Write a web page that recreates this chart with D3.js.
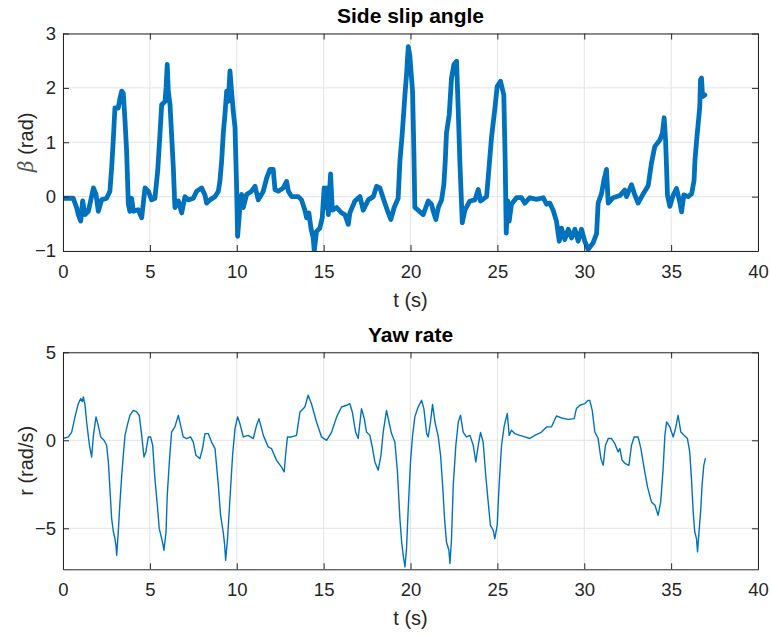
<!DOCTYPE html>
<html>
<head>
<meta charset="utf-8">
<script src="https://cdn.jsdelivr.net/npm/d3@7"></script>
<style>
  html, body { margin: 0; padding: 0; background: #fff; }
  svg { display: block; font-family: "Liberation Sans", Arial, Helvetica, sans-serif; }
</style>
</head>
<body>
<svg id="chart" width="771" height="636"></svg>
<script>
// ---------- data ----------
const xTicks = [0, 5, 10, 15, 20, 25, 30, 35, 40];
const betaTicks = [-1, 0, 1, 2, 3];
const yawTicks = [-5, 0, 5];

const betaT = [0, 0.3, 0.59, 0.79, 0.88, 1.02, 1.13, 1.27, 1.46, 1.59, 1.75, 1.9, 2.03, 2.22, 2.51, 2.7, 2.8, 2.9, 2.99, 3.18, 3.28, 3.38, 3.47, 3.57, 3.66, 3.76, 3.85, 3.95, 4.05, 4.33, 4.53, 4.72, 4.91, 5.1, 5.29, 5.45, 5.58, 5.68, 5.87, 5.93, 6.0, 6.06, 6.16, 6.25, 6.35, 6.44, 6.64, 6.83, 7.02, 7.21, 7.5, 7.69, 7.98, 8.17, 8.27, 8.46, 8.75, 8.94, 9.03, 9.13, 9.22, 9.32, 9.42, 9.51, 9.61, 9.7, 9.8, 9.9, 9.99, 10.05,
  10.18, 10.28, 10.38, 10.57, 10.85, 11.05, 11.24, 11.53, 11.72, 11.91, 12.1, 12.2, 12.39, 12.68, 12.87, 12.97, 13.16, 13.54, 13.73, 13.92, 14.02, 14.15, 14.27, 14.4, 14.46, 14.59, 14.78, 14.92, 15.03, 15.11, 15.19, 15.27, 15.4, 15.5, 15.75, 16.03, 16.22, 16.42, 16.51, 16.8, 17.09, 17.28, 17.57, 17.86, 18.05, 18.24, 18.43, 18.72, 18.87, 19.06, 19.29, 19.39, 19.52, 19.68, 19.77, 19.87, 19.96, 20.06, 20.12, 20.2, 20.25,
  20.44, 20.73, 21.02, 21.21, 21.31, 21.46, 21.6, 21.79, 21.92, 22.0, 22.07, 22.23, 22.36, 22.5, 22.65, 22.75, 22.84, 22.98, 23.13, 23.42, 23.71, 23.9, 24.03, 24.38, 24.49, 24.66, 24.86, 24.99, 25.18, 25.37, 25.45, 25.51, 25.6, 25.68, 25.81, 26.1, 26.39, 26.58, 26.87, 27.25, 27.64, 27.83, 28.02, 28.21, 28.4, 28.56, 28.69, 28.88, 29.08, 29.27, 29.46, 29.65, 29.84, 30.03, 30.23, 30.51, 30.71, 30.8,
  30.99, 31.13, 31.28, 31.38, 31.66, 32.05, 32.33, 32.43, 32.72, 32.91, 33.1, 33.39, 33.68, 33.87, 34.06, 34.35, 34.5, 34.6, 34.68, 34.73, 34.79, 34.93, 35.12, 35.31, 35.5, 35.6, 35.73, 35.98, 36.18, 36.32, 36.37, 36.47, 36.56, 36.65, 36.69, 36.75, 36.81, 36.94];
const betaV = [-0.03, -0.03, -0.03, -0.21, -0.33, -0.45, -0.08, -0.33, -0.27, -0.08, 0.16, 0.04, -0.27, -0.06, -0.03, 0.1, 0.53, 1.08, 1.63, 1.63, 1.81, 1.94, 1.9, 1.39, 0.84, -0.14, -0.27, -0.03, -0.27, -0.24, -0.39, 0.16, 0.1, -0.06, -0.03, 0.47, 1.14, 1.69, 1.75, 2.0, 2.43, 1.93, 1.69, 1.14, 0.53, -0.2, -0.08, -0.3, 0.0, -0.06, -0.03, 0.1, 0.16, 0.03, -0.12, -0.06, 0.0, 0.1, 0.28, 0.65, 1.14, 1.51, 1.94, 1.75, 2.31, 1.94, 1.57, 1.27, 0.2, -0.73,
  -0.2, 0.04, -0.2, 0.04, 0.1, 0.19, -0.06, 0.1, 0.34, 0.5, 0.5, 0.13, 0.1, 0.16, 0.28, 0.1, 0.0, 0.0, -0.06, -0.25, -0.39, -0.3, -0.58, -0.76, -1.0, -0.64, -0.58, -0.39, 0.16, -0.2, 0.16, -0.33, 0.42, -0.25, -0.2, -0.3, -0.33, -0.51, -0.3, -0.08, 0.0, -0.25, -0.06, 0.0, 0.19, 0.16, -0.03, -0.3, -0.42, -0.2, -0.03, 0.65, 1.14, 1.87, 2.24, 2.76, 2.6, 2.18, 1.93, 0.74, -0.2,
  -0.25, -0.33, -0.08, -0.14, -0.27, -0.42, -0.2, -0.06, 0.22, 0.65, 1.17, 1.51, 2.18, 2.43, 2.49, 1.57, 0.65, -0.48, -0.25, -0.08, -0.06, 0.13, -0.08, 0.0, 0.42, 1.08, 1.63, 2.03, 2.12, 1.87, 0.65, -0.67, -0.08, -0.45, -0.14, -0.02, -0.02, -0.12, -0.02, -0.05, -0.02, -0.14, -0.12, -0.25, -0.45, -0.82, -0.58, -0.79, -0.6, -0.76, -0.6, -0.82, -0.6, -0.82, -0.97, -0.85, -0.68, -0.12,
  0.05, 0.3, 0.5, -0.12, -0.02, 0.02, 0.12, 0.0, 0.22, 0.03, -0.12, 0.05, 0.2, 0.62, 0.92, 1.04, 1.17, 1.45, 1.04, 0.6, 0.02, -0.18, 0.03, 0.15, -0.1, -0.28, 0.03, 0.0, 0.05, 0.3, 0.66, 1.04, 1.35, 1.66, 2.15, 2.18, 1.84, 1.87];

const yawT = [0, 0.31, 0.5, 0.69, 0.88, 1.02, 1.1, 1.17, 1.27, 1.36, 1.52, 1.65, 1.75, 1.9, 2.03, 2.17, 2.36, 2.51, 2.61, 2.7, 2.8, 2.9, 2.99, 3.05, 3.09, 3.18, 3.28, 3.38, 3.47, 3.57, 3.7, 3.85, 4.05, 4.24, 4.39, 4.53, 4.66, 4.77, 4.91, 5.04, 5.16, 5.29, 5.43, 5.54, 5.68, 5.75, 5.81, 5.93, 6.0, 6.12, 6.25, 6.44, 6.64, 6.77, 6.92, 7.11, 7.34, 7.5, 7.65, 7.88, 8.03, 8.17, 8.36, 8.55, 8.75, 8.94, 9.07, 9.22, 9.3, 9.36, 9.47, 9.61, 9.76, 9.9,
  10.05, 10.18, 10.38, 10.66, 10.95, 11.14, 11.28, 11.53, 11.81, 12.0, 12.29, 12.58, 12.73, 12.81, 12.92, 13.16, 13.44, 13.64, 13.92, 14.11, 14.3, 14.59, 14.88, 15.17, 15.46, 15.75, 16.03, 16.32, 16.51, 16.65, 16.84, 16.99, 17.18, 17.34, 17.47, 17.66, 17.8, 17.95, 18.14, 18.3, 18.43, 18.62, 18.76, 18.91, 19.1, 19.25, 19.39, 19.49, 19.58, 19.68, 19.77, 19.87, 20.0,
  20.12, 20.25, 20.44, 20.64, 20.77, 20.93, 21.02, 21.15, 21.27, 21.41, 21.6, 21.73, 21.85, 21.96, 22.07, 22.21, 22.27, 22.36, 22.46, 22.61, 22.75, 22.88, 23.03, 23.22, 23.42, 23.61, 23.76, 23.9, 24.03, 24.18, 24.33, 24.47, 24.6, 24.76, 24.85, 24.99, 25.1, 25.24, 25.4, 25.57, 25.68, 25.81, 26.0, 26.29, 26.58, 26.87, 27.15, 27.54, 27.83, 28.11, 28.4, 28.69, 29.08, 29.42, 29.55, 29.75, 30.03, 30.22,
  30.32, 30.46, 30.61, 30.8, 30.96, 31.09, 31.22, 31.38, 31.57, 31.76, 31.95, 32.05, 32.18, 32.37, 32.57, 32.72, 32.87, 33.1, 33.26, 33.45, 33.64, 33.87, 34.07, 34.25, 34.4, 34.54, 34.64, 34.74, 34.93, 35.12, 35.25, 35.4, 35.56, 35.75, 35.94, 36.07, 36.17, 36.27, 36.36, 36.46, 36.52, 36.59, 36.71, 36.78, 36.88, 36.97];
const yawV = [0.1, 0.19, 0.47, 1.33, 2.08, 2.37, 2.2, 2.46, 1.99, 1.04, -0.28, -0.95, 0.28, 1.33, 0.85, 0.19, 0.0, -0.28, -1.23, -2.75, -4.45, -5.21, -5.59, -6.0, -6.53, -5.21, -3.5, -1.99, -0.85, 0.28, 0.85, 1.42, 1.7, 1.61, 1.42, 0.28, -0.95, -0.66, 0.19, 0.19, -0.28, -2.18, -3.69, -5.02, -5.59, -5.9, -6.25, -5.21, -3.13, -1.23, 0.47, 0.76, 1.42, 0.85, 0.19, 0.1, 0.19, -0.1, -0.85, -1.04, -0.47, 0.38, 0.38, -0.1, -0.47, -2.56, -4.26, -5.21, -5.9, -6.82, -5.59, -3.31, -0.85, 0.66,
  1.33, 0.95, 0.19, 0.28, 0.1, 0.85, 1.23, 0.28, -0.38, -0.47, -1.14, -1.52, -1.8, -0.85, 0.19, 0.19, 0.28, 1.61, 1.89, 2.56, 2.08, 1.04, 0.19, 0.0, 0.47, 1.33, 1.89, 1.99, 2.08, 1.61, 0.47, 0.1, 1.8, 1.23, 0.47, 0.28, -0.38, -1.23, -1.7, -0.85, 0.47, 1.7, 1.04, 0.38, -0.1, -1.8, -4.45, -5.78, -6.53, -7.2, -6.16, -3.88, -1.23,
  0.28, 1.33, 1.89, 2.27, 1.8, 0.38, 0.19, 1.04, 2.03, 1.04, 0.19, -0.85, -2.56, -4.45, -5.78, -6.25, -7.0, -5.59, -2.56, -0.28, 1.04, 1.42, 0.47, 0.19, 0.28, -0.28, -1.23, -0.28, 0.44, -0.1, -1.99, -3.5, -4.83, -5.11, -5.59, -4.83, -2.56, -0.28, 0.85, 1.52, 0.28, 0.57, 0.38, 0.28, 0.19, 0.1, 0.28, 0.47, 0.76, 0.76, 1.38, 1.27, 1.19, 1.23, 1.8, 1.99, 2.08, 2.27,
  2.27, 1.7, 0.47, 0.1, -1.04, -1.42, -0.28, 0.1, 0.1, -0.19, -0.66, -0.47, -1.14, -1.33, -1.42, -0.28, 0.19, 0.19, -0.47, -1.61, -2.65, -3.5, -3.69, -4.26, -3.5, -1.61, 0.28, 1.04, 0.76, 0.19, 0.66, 1.42, 0.47, 0.28, 0.1, -0.66, -2.18, -4.07, -5.21, -5.59, -6.34, -5.4, -3.88, -2.56, -1.42, -1.04];

// ---------- layout ----------
const svg = d3.select("#chart");
const left = 63, right = 758;
const panels = [
  { title: "Side slip angle", top: 33.5, bottom: 251, domain: [-1, 3], ticks: betaTicks,
    t: betaT, v: betaV, width: 4.8, ylabel: "beta" },
  { title: "Yaw rate", top: 352.3, bottom: 569.3, domain: [-7.33, 5], ticks: yawTicks,
    t: yawT, v: yawV, width: 1.4, ylabel: "r (rad/s)" }
];

const axisColor = "#262626";
const gridColor = "#e3e3e3";
const lineColor = "#0072BD";
const fontFam = "'Liberation Sans', Arial, Helvetica, sans-serif";

panels.forEach((p, i) => {
  const x = d3.scaleLinear().domain([0, 40]).range([left, right]);
  const y = d3.scaleLinear().domain(p.domain).range([p.bottom, p.top]);
  const g = svg.append("g");

  // grid
  g.append("g").selectAll("line").data(xTicks).join("line")
    .attr("x1", d => x(d)).attr("x2", d => x(d))
    .attr("y1", p.top).attr("y2", p.bottom)
    .attr("stroke", gridColor).attr("stroke-width", 1);
  g.append("g").selectAll("line").data(p.ticks).join("line")
    .attr("x1", left).attr("x2", right)
    .attr("y1", d => y(d)).attr("y2", d => y(d))
    .attr("stroke", gridColor).attr("stroke-width", 1);

  // clip
  const clipId = "clip" + i;
  svg.append("clipPath").attr("id", clipId).append("rect")
    .attr("x", left).attr("y", p.top).attr("width", right - left).attr("height", p.bottom - p.top);

  // data line
  const pts = p.t.map((t, k) => [t, p.v[k]]);
  g.append("path")
    .datum(pts)
    .attr("clip-path", "url(#" + clipId + ")")
    .attr("fill", "none")
    .attr("stroke", lineColor)
    .attr("stroke-width", p.width)
    .attr("stroke-linejoin", "round")
    .attr("stroke-linecap", "round")
    .attr("d", d3.line().x(d => x(d[0])).y(d => y(d[1])));

  // axes (ticks inward)
  const tickLen = 6;
  const fmt = d3.format("d");
  const bottomAxis = d3.axisBottom(x).tickValues(xTicks).tickSizeInner(-tickLen).tickSizeOuter(0).tickPadding(14).tickFormat(fmt);
  const topAxis = d3.axisTop(x).tickValues(xTicks).tickSizeInner(-tickLen).tickSizeOuter(0).tickFormat("");
  const leftAxis = d3.axisLeft(y).tickValues(p.ticks).tickSizeInner(-tickLen).tickSizeOuter(0).tickPadding(7).tickFormat(fmt);
  const rightAxis = d3.axisRight(y).tickValues(p.ticks).tickSizeInner(-tickLen).tickSizeOuter(0).tickFormat("");

  const styleAxis = sel => {
    sel.attr("font-family", fontFam).attr("font-size", 18.5);
    sel.selectAll("path").attr("stroke", axisColor).attr("stroke-width", 1);
    sel.selectAll("line").attr("stroke", axisColor).attr("stroke-width", 1);
    sel.selectAll("text").attr("fill", axisColor);
  };
  g.append("g").attr("transform", `translate(0,${p.bottom})`).call(bottomAxis).call(styleAxis);
  g.append("g").attr("transform", `translate(0,${p.top})`).call(topAxis).call(styleAxis);
  g.append("g").attr("transform", `translate(${left},0)`).call(leftAxis).call(styleAxis);
  g.append("g").attr("transform", `translate(${right},0)`).call(rightAxis).call(styleAxis);

  // title
  g.append("text")
    .attr("x", (left + right) / 2).attr("y", p.top - 10.5)
    .attr("text-anchor", "middle")
    .attr("font-family", fontFam)
    .attr("font-size", 21).attr("font-weight", "bold").attr("fill", "#000")
    .text(p.title);

  // x label
  g.append("text")
    .attr("x", (left + right) / 2).attr("y", p.bottom + 56)
    .attr("text-anchor", "middle")
    .attr("font-family", fontFam)
    .attr("font-size", 20).attr("fill", axisColor)
    .text("t (s)");

  // y label
  const cy = (p.top + p.bottom) / 2;
  const yl = g.append("text")
    .attr("transform", `translate(33,${cy}) rotate(-90)`)
    .attr("text-anchor", "middle")
    .attr("font-family", fontFam)
    .attr("font-size", 20).attr("fill", axisColor);
  if (p.ylabel === "beta") {
    yl.append("tspan").attr("font-style", "italic").attr("font-family", "'DejaVu Serif', 'Liberation Serif', serif").attr("fill", "#555").text("β");
    yl.append("tspan").text(" (rad)");
  } else {
    yl.text(p.ylabel);
  }
});
</script>
</body>
</html>
